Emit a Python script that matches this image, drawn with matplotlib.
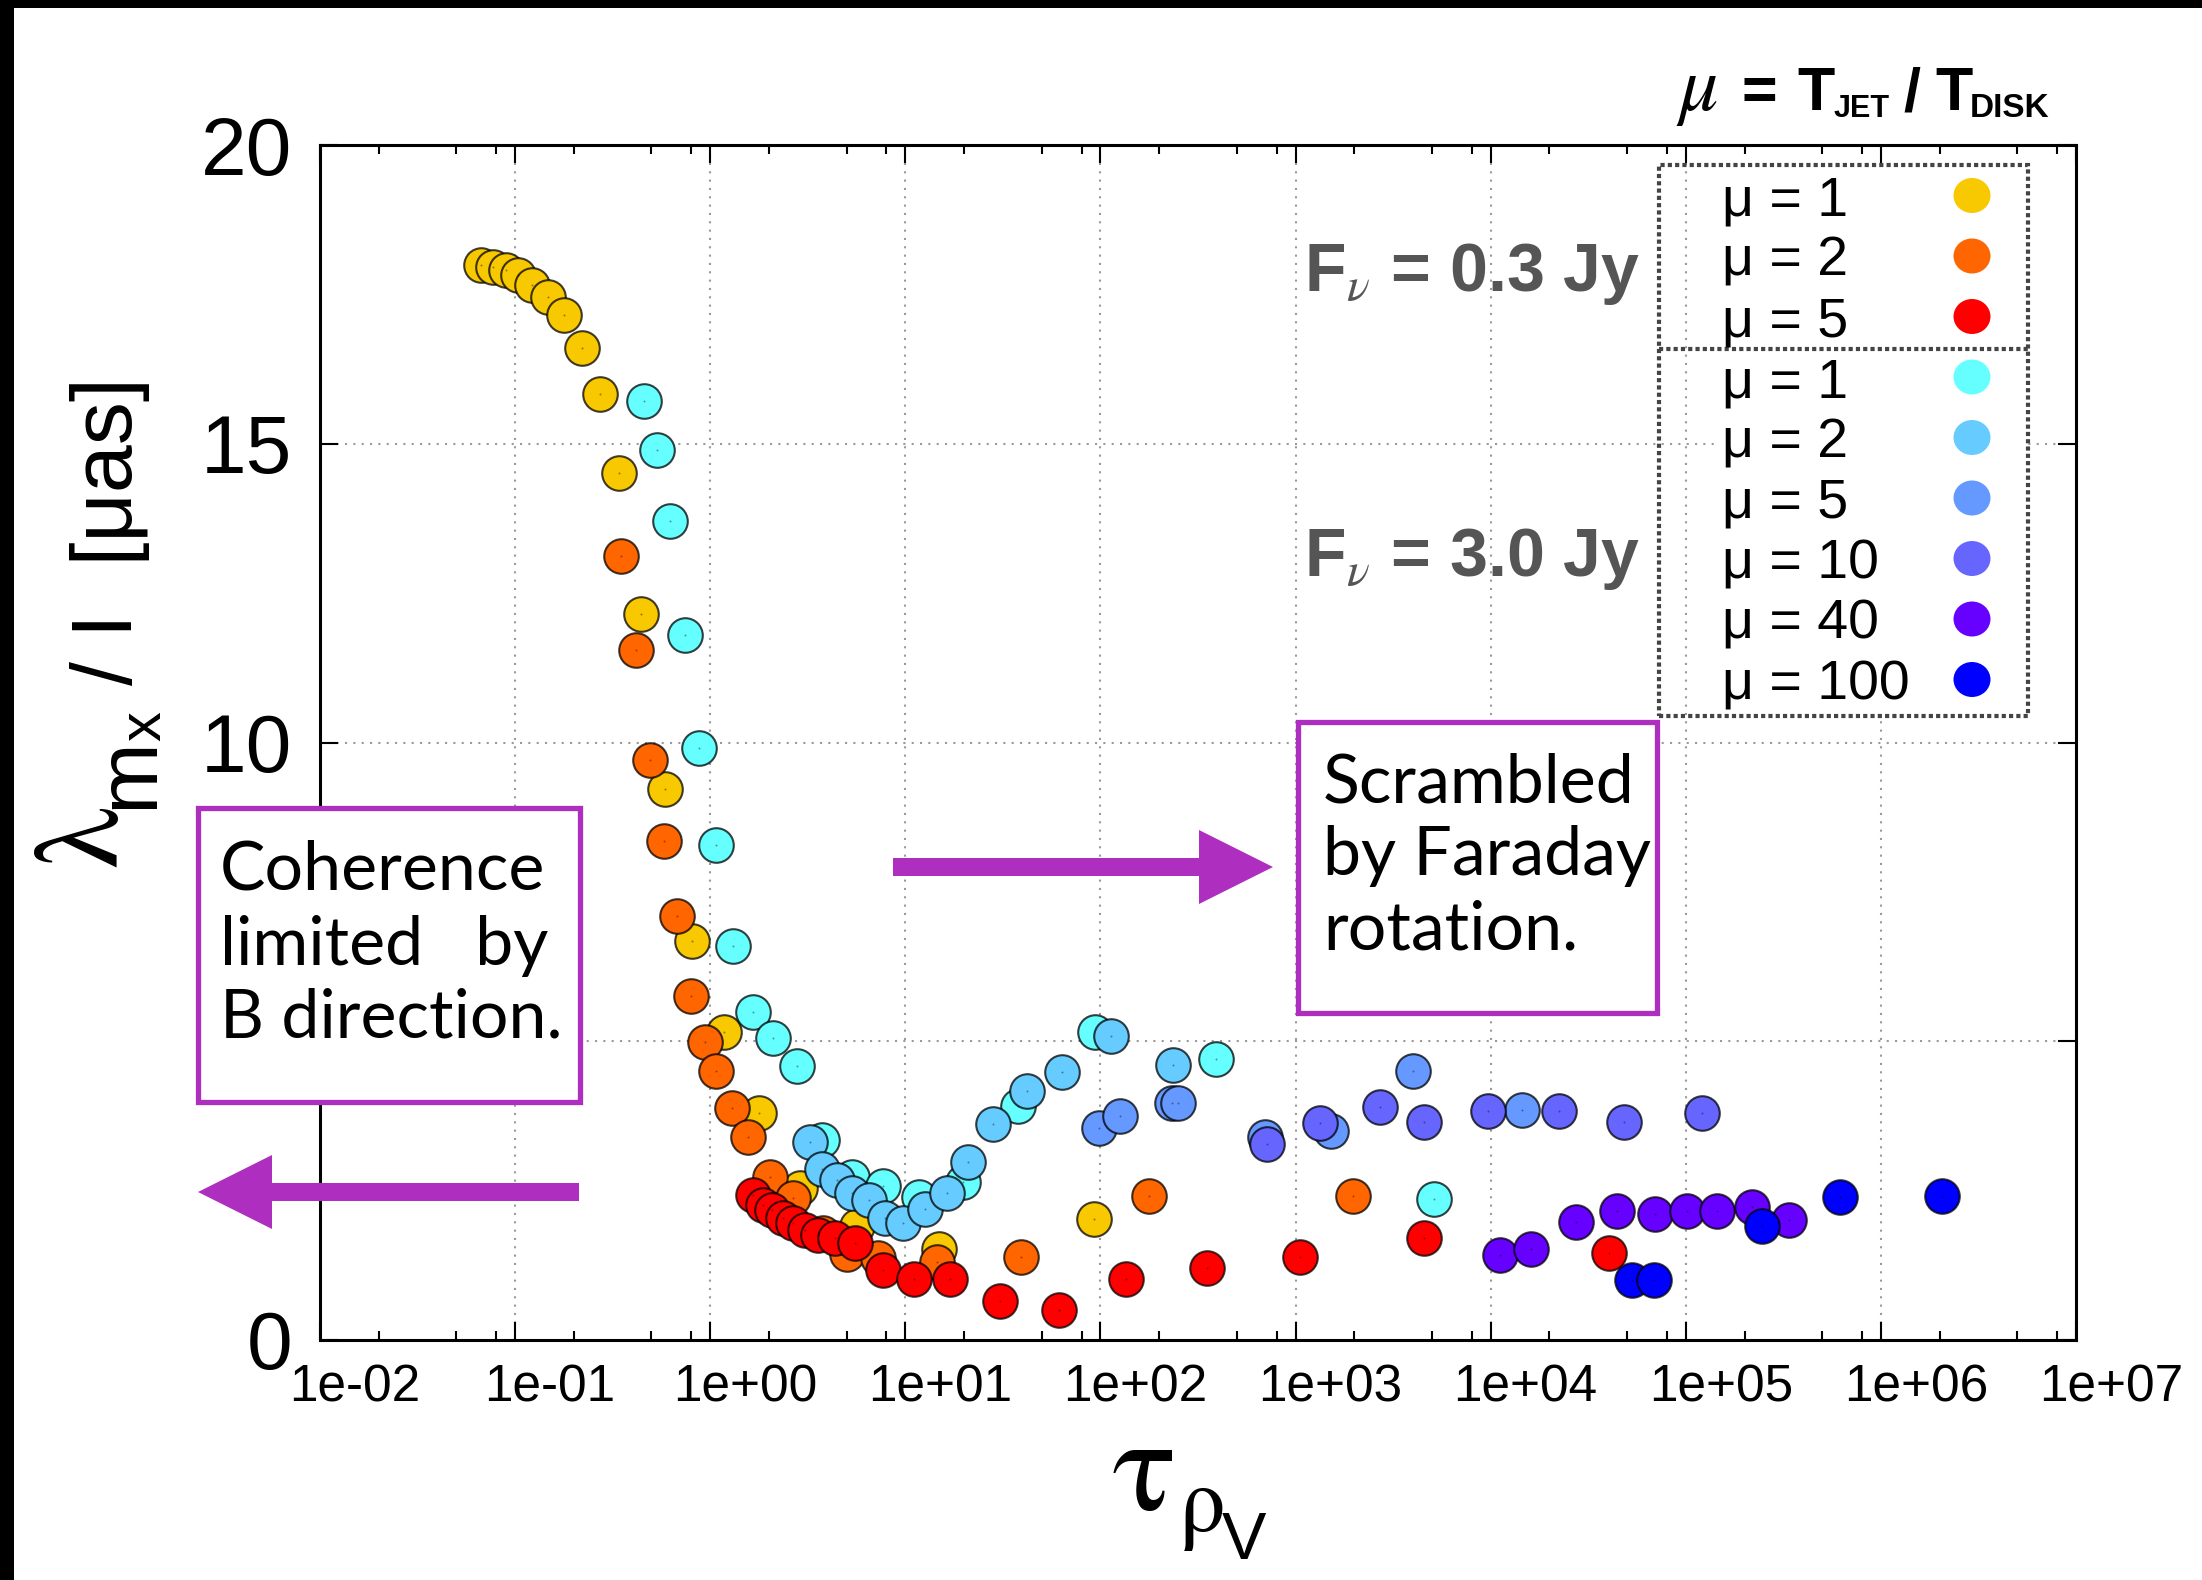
import numpy as np
import matplotlib
matplotlib.use('Agg')
import matplotlib.pyplot as plt
import matplotlib.ticker as ticker
from matplotlib.patches import Rectangle, Ellipse, Polygon
from matplotlib.lines import Line2D
from matplotlib.transforms import ScaledTranslation

plt.rcParams['font.family'] = ['Liberation Sans', 'DejaVu Sans']
plt.rcParams['mathtext.fontset'] = 'custom'
plt.rcParams['mathtext.rm'] = 'Liberation Sans'
plt.rcParams['mathtext.sf'] = 'Liberation Sans'
plt.rcParams['mathtext.bf'] = 'Liberation Sans:bold'
plt.rcParams['mathtext.it'] = 'STIXGeneral:italic'
plt.rcParams['mathtext.cal'] = 'STIXGeneral'  # upright greek via \mathcal

# F_nu = 0.3 Jy runs
yel_tau = [0.0667, 0.0773, 0.0897, 0.104, 0.122, 0.148, 0.178, 0.219, 0.271, 0.342,
           0.444, 0.589, 0.803, 1.17, 1.77, 2.88, 5.63, 14.8, 93.1]
yel_lam = [17.99, 17.95, 17.90, 17.82, 17.66, 17.46, 17.15, 16.60, 15.83, 14.51,
           12.15, 9.23, 6.68, 5.16, 3.80, 2.54, 1.90, 1.53, 2.02]

ora_tau = [0.349, 0.418, 0.491, 0.580, 0.673, 0.794, 0.940, 1.07, 1.30, 1.57,
           2.03, 2.67, 3.80, 5.01, 7.27, 14.5, 39.0, 178, 1965]
ora_lam = [13.12, 11.55, 9.71, 8.35, 7.10, 5.76, 4.99, 4.51, 3.88, 3.40,
           2.73, 2.38, 1.79, 1.44, 1.37, 1.31, 1.39, 2.41, 2.41]

red_tau = [1.66, 1.87, 2.07, 2.37, 2.67, 3.06, 3.58, 4.36, 5.52, 7.71,
           11.1, 17.0, 30.6, 61.6, 136, 351, 1055, 4560, 40450]
red_lam = [2.43, 2.26, 2.18, 2.04, 1.95, 1.84, 1.76, 1.70, 1.63, 1.17,
           1.02, 1.02, 0.65, 0.51, 1.02, 1.21, 1.39, 1.71, 1.45]

# F_nu = 3.0 Jy runs
cyn_tau = [0.458, 0.532, 0.622, 0.743, 0.879, 1.07, 1.31, 1.65, 2.11, 2.78,
           3.73, 5.31, 7.71, 11.7, 19.8, 37.9, 93.8, 390, 5126]
cyn_lam = [15.71, 14.90, 13.71, 11.80, 9.91, 8.28, 6.60, 5.49, 5.06, 4.59,
           3.35, 2.73, 2.57, 2.40, 2.65, 3.92, 5.16, 4.71, 2.36]

lbl_tau = [3.25, 3.73, 4.45, 5.31, 6.54, 7.87, 9.77, 12.6, 16.3, 21.0,
           28.3, 41.9, 63.4, 113, 235]
lbl_lam = [3.32, 2.87, 2.68, 2.46, 2.34, 2.04, 1.95, 2.20, 2.46, 2.98,
           3.62, 4.16, 4.49, 5.09, 4.60]

m5_tau = [98.7, 126.5, 233, 249, 695, 1521, 3980, 14540]
m5_lam = [3.54, 3.75, 3.96, 3.96, 3.40, 3.50, 4.51, 3.85]

m10_tau = [714, 1335, 2696, 4556, 9652, 22470, 48040, 121200]
m10_lam = [3.28, 3.64, 3.90, 3.65, 3.84, 3.83, 3.65, 3.80]

m40_tau = [11110, 16030, 27390, 44610, 69580, 101200, 145200, 218800, 337500]
m40_lam = [1.42, 1.52, 1.98, 2.16, 2.11, 2.16, 2.16, 2.22, 2.01]

m100_tau = [53050, 68460, 246000, 616600, 2054000]
m100_lam = [1.00, 1.00, 1.90, 2.39, 2.41]

low_labels = ['1', '2', '5']
low_colors = ['#F8C800', '#FF6600', '#FF0000']
high_labels = ['1', '2', '5', '10', '40', '100']
high_colors = ['#66FFFF', '#66CCFF', '#6699FF', '#6666FF', '#6600FF', '#0000FF']

series = [(yel_tau, yel_lam), (ora_tau, ora_lam), (red_tau, red_lam),
          (cyn_tau, cyn_lam), (lbl_tau, lbl_lam), (m5_tau, m5_lam),
          (m10_tau, m10_lam), (m40_tau, m40_lam), (m100_tau, m100_lam)]
colors = low_colors + high_colors

W, H = 2202, 1580
purple = '#AE2FBF'


def fp(x, y):
    # pixel position measured from the top-left corner -> figure fraction
    return x / W, 1 - y / H


fig = plt.figure(figsize=(W / 100, H / 100), dpi=100)
ax = fig.add_axes([320 / W, 1 - 1340 / H, (2076 - 320) / W, (1340 - 145) / H])

for i, ((tau, lam), col) in enumerate(zip(series, colors)):
    ax.scatter(tau, lam, s=620, c=col, edgecolors=(0, 0, 0, 0.75), linewidths=1.5, zorder=3 + 2 * i)
    ax.scatter(tau, lam, s=2, c='k', alpha=0.4, linewidths=0, zorder=4 + 2 * i)

ax.set_xscale('log')
ax.set_xlim(1e-2, 1e7)
ax.set_ylim(0, 20)

ax.xaxis.set_major_locator(ticker.LogLocator(base=10, numticks=20))
ax.xaxis.set_minor_locator(ticker.LogLocator(base=10, subs=(2, 5, 8), numticks=20))
ax.xaxis.set_major_formatter(ticker.FuncFormatter(lambda v, p: '%.0e' % v))
ax.xaxis.set_minor_formatter(ticker.NullFormatter())
ax.set_yticks([0, 5, 10, 15, 20])

ax.tick_params(which='both', direction='in', top=True, right=True, width=1.5)
ax.tick_params(which='major', length=13)
ax.tick_params(which='minor', length=6.5)
ax.tick_params(axis='x', labelsize=37, pad=17)
ax.tick_params(axis='y', labelsize=59, pad=20)

shift = ScaledTranslation(0.35, 0, fig.dpi_scale_trans)
for lab in ax.get_xticklabels():
    lab.set_transform(lab.get_transform() + shift)

for sp in ax.spines.values():
    sp.set_linewidth(2.2)

ax.set_axisbelow(True)
ax.grid(True, which='major', color='#9a9a9a', linestyle=(0, (1, 3)), linewidth=1.5)

# x label: tau with a stacked rho_V subscript
fig.text(*fp(1112, 1510), r'$\mathcal{\tau}$', ha='left', va='baseline', fontsize=96)
fig.text(*fp(1178, 1531), r'$\mathcal{\rho}$', ha='left', va='baseline', fontsize=67)
fig.text(*fp(1222, 1559), 'V', ha='left', va='baseline', fontsize=48)

# y label: lambda_{m_x} / I [muas], built from rotated pieces
yl = dict(rotation=90, ha='center', va='center')
fig.text(*fp(86, 838), r'$\mathcal{\lambda}$', fontsize=88, **yl)
fig.text(*fp(130, 773), 'm', fontsize=62, **yl)
fig.text(*fp(145, 726), 'x', fontsize=43, **yl)
fig.text(*fp(110, 531), '/ I  [μas]', fontsize=62, **yl)

# key heading: mu = T_JET / T_DISK
head = dict(va='baseline', ha='left', weight='bold')
fig.text(*fp(1676, 110), r'$\mu$', fontsize=56, va='baseline', ha='left')
fig.text(*fp(1741, 110), '=', fontsize=44, **head)
fig.text(*fp(1797, 110), 'T', fontsize=44, **head)
fig.text(*fp(1834, 117), 'JET', fontsize=22, **head)
fig.text(*fp(1903, 110), '/', fontsize=44, **head)
fig.text(*fp(1935, 110), 'T', fontsize=44, **head)
fig.text(*fp(1970, 117), 'DISK', fontsize=24, **head)

# key: white backing, dotted frames, entries
fig.add_artist(Rectangle(fp(1715, 714), (2024 - 1715) / W, (714 - 168) / H,
                         fc='white', ec='none', zorder=1))
fig.add_artist(Rectangle(fp(1659, 716), (2028 - 1659) / W, (716 - 165) / H, fill=False,
                         ec='#444444', lw=3, ls=(0, (1, 0.75)), zorder=2))
fig.add_artist(Line2D([1659 / W, 2028 / W], [1 - 349 / H] * 2, color='#444444',
                      lw=3, ls=(0, (1, 0.75)), zorder=2))

row_y = 195.5
for lab, col in zip(low_labels + high_labels, colors):
    fig.text(*fp(1722, row_y + 20), 'μ = ' + lab, ha='left', va='baseline', fontsize=40, zorder=3)
    fig.add_artist(Ellipse(fp(1972, row_y), 37 / W, 35 / H, fc=col, ec='none', zorder=3))
    row_y += 60.5

fig.text(*fp(1640, 274), r'F$_\nu$ = 0.3 Jy', ha='right', va='center', fontsize=49,
         weight='bold', color='#555555')
fig.text(*fp(1640, 559), r'F$_\nu$ = 3.0 Jy', ha='right', va='center', fontsize=49,
         weight='bold', color='#555555')


# annotation boxes
def note_box(x0, y0, x1, y1):
    fig.add_artist(Rectangle(fp(x0, y1), (x1 - x0) / W, (y1 - y0) / H,
                             fc='white', ec=purple, lw=3.8, zorder=2))


def arrow(tail, tip, y):
    d = 1 if tip > tail else -1
    base = tip - d * 74
    pts = [(tail, y - 9), (base, y - 9), (base, y - 37), (tip, y),
           (base, y + 37), (base, y + 9), (tail, y + 9)]
    fig.add_artist(Polygon([fp(px, py) for px, py in pts], closed=True,
                           fc=purple, ec='none', zorder=2))


note_box(198, 808, 580, 1102)
note_box(1298, 722, 1657, 1013)
arrow(579, 198, 1192)
arrow(893, 1273, 867)

box_font = dict(family='Lato', fontsize=49, ha='left', va='baseline', zorder=3)
for txt, yb in zip(['Coherence', 'limited   by', 'B direction.'], [890, 965, 1038]):
    fig.text(*fp(220, yb), txt, **box_font)
for txt, yb in zip(['Scrambled', 'by Faraday', 'rotation.'], [802, 875, 950]):
    fig.text(*fp(1323, yb), txt, **box_font)

# dark frame along the top and left edges
fig.add_artist(Rectangle((0, 1 - 8 / H), 1, 8 / H, fc='black', ec='none', zorder=5))
fig.add_artist(Rectangle((0, 0), 14 / W, 1, fc='black', ec='none', zorder=5))

plt.savefig('out.png', dpi=100)
